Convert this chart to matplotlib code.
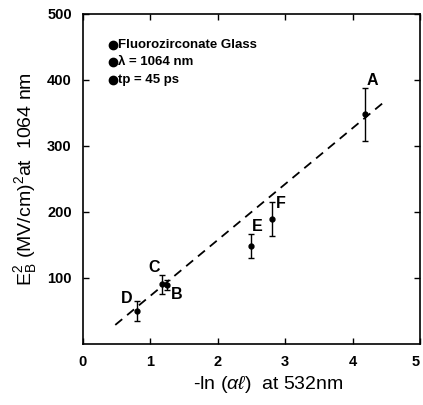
import matplotlib
matplotlib.use("Agg")
import matplotlib.pyplot as plt
import numpy as np

plt.rcParams['font.family'] = ['Liberation Sans', 'DejaVu Sans']
plt.rcParams['mathtext.fontset'] = 'custom'
plt.rcParams['mathtext.rm'] = 'Liberation Sans'
plt.rcParams['mathtext.it'] = 'Liberation Sans:italic'

# samples: -ln(alpha*l) at 532 nm vs E_B^2 at 1064 nm
labels = ['A', 'B', 'C', 'D', 'E', 'F']
x_vals = [4.18, 1.24, 1.18, 0.80, 2.50, 2.80]
y_vals = [348, 89, 90, 50, 148, 189]
y_err = [40, 8, 15, 15, 18, 26]

# label positions (data coords)
label_x = [4.30, 1.39, 1.05, 0.65, 2.58, 2.93]
label_y = [399, 74, 115, 68, 178, 213]

# dashed fit line
fit_slope = 84.7
fit_intercept = -12.0
fit_range = [0.48, 4.47]

notes = ['Fluorozirconate Glass', 'λ = 1064 nm', 'tp = 45 ps']

fig = plt.figure(figsize=(4.23, 4.05), dpi=100)
ax = fig.add_axes([0.196, 0.151, 0.797, 0.815])

fx = np.array(fit_range)
ax.plot(fx, fit_slope * fx + fit_intercept, color='black', ls=(0, (5, 3.5)), lw=1.3)

ax.errorbar(x_vals, y_vals, yerr=y_err, fmt='o', color='black', ms=3.5,
            elinewidth=1.0, capsize=2, capthick=1.0)

for lab, lx, ly in zip(labels, label_x, label_y):
    ax.text(lx, ly, lab, fontsize=11.5, fontweight='bold', ha='center', va='center')

for i, note in enumerate(notes):
    yy = 0.906 - i * 0.053
    ax.plot([0.09], [yy], 'o', color='black', ms=6, transform=ax.transAxes)
    ax.text(0.105, yy, note, transform=ax.transAxes, fontsize=9.5,
            fontweight='bold', va='center', ha='left')

ax.set_xlim(0, 5)
ax.set_ylim(0, 500)
ax.set_xticks([0, 1, 2, 3, 4, 5])
ax.set_yticks([100, 200, 300, 400, 500])
ax.tick_params(direction='in', top=True, right=True, length=4, width=1.0,
               labelsize=10.5, pad=8)
for t in ax.get_xticklabels() + ax.get_yticklabels():
    t.set_fontweight('bold')
ax.get_xticklabels()[-1].set_horizontalalignment('right')
for s in ax.spines.values():
    s.set_linewidth(1.2)

ax.set_ylabel(r'$\mathregular{E_B^2}$ (MV/cm)$\mathregular{^2}$at  1064 nm', fontsize=14)
ax.yaxis.set_label_coords(-0.13, 0.5)
ax.set_xlabel(r'-ln $(\alpha\ell)$  at 532nm', fontsize=14)
ax.xaxis.set_label_coords(0.55, -0.09)

fig.savefig('out.png', dpi=100)
